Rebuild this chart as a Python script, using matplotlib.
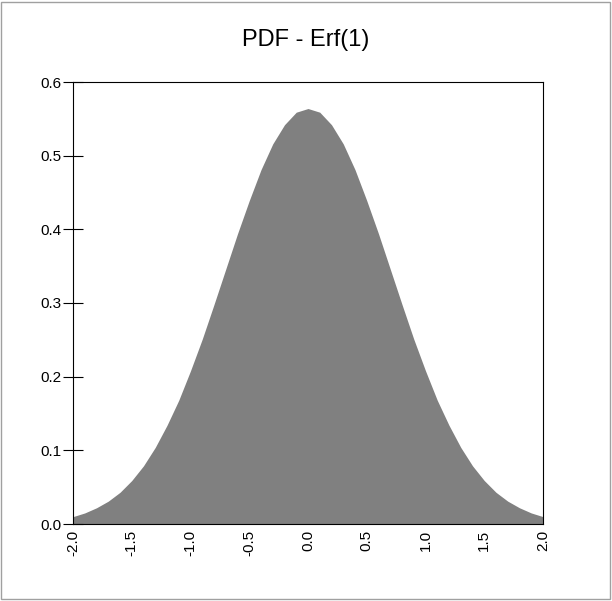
import matplotlib.pyplot as plt
import numpy as np

plt.rcParams['font.family'] = ['Liberation Sans', 'DejaVu Sans']

# half-curve values (symmetric around 0)
x_half = [0.0, 0.1, 0.2, 0.3, 0.4, 0.5, 0.6, 0.7, 0.8, 0.9, 1.0,
          1.1, 1.2, 1.3, 1.4, 1.5, 1.6, 1.7, 1.8, 1.9, 2.0]
pdf_half = [0.564, 0.559, 0.542, 0.516, 0.481, 0.439, 0.394, 0.346, 0.298, 0.251, 0.208,
            0.168, 0.134, 0.104, 0.079, 0.059, 0.043, 0.031, 0.022, 0.015, 0.010]

x = [-v for v in x_half[:0:-1]] + x_half
pdf = pdf_half[:0:-1] + pdf_half

xticks = [-2.0, -1.5, -1.0, -0.5, 0.0, 0.5, 1.0, 1.5, 2.0]
yticks = [0.0, 0.1, 0.2, 0.3, 0.4, 0.5, 0.6]

fig = plt.figure(figsize=(6.12, 6.01), dpi=100)
ax = fig.add_axes([73 / 612, 1 - 524 / 601, 470 / 612, 442 / 601])

ax.fill_between(x, pdf, 0, color='#808080', linewidth=0)
ax.set_xlim(-2.0, 2.0)
ax.set_ylim(0.0, 0.6)
ax.set_xticks(xticks)
ax.set_xticklabels([f'{v:.1f}' for v in xticks], rotation=90, fontsize=11)
ax.set_yticks(yticks)
ax.set_yticklabels([f'{v:.1f}' for v in yticks], fontsize=11)
ax.tick_params(axis='y', direction='inout', length=14, width=0.8, pad=1)
ax.tick_params(axis='x', length=0, pad=4)
for s in ax.spines.values():
    s.set_linewidth(0.8)

fig.text(0.5, 1 - 40 / 601, 'PDF - Erf(1)', ha='center', va='center', fontsize=17)

# outer frame
fig.patches.append(plt.Rectangle((0.002, 0.003), 0.994, 0.994, transform=fig.transFigure,
                                 fill=False, edgecolor='#a0a0a0', linewidth=1))

fig.savefig('out.png', dpi=100)
